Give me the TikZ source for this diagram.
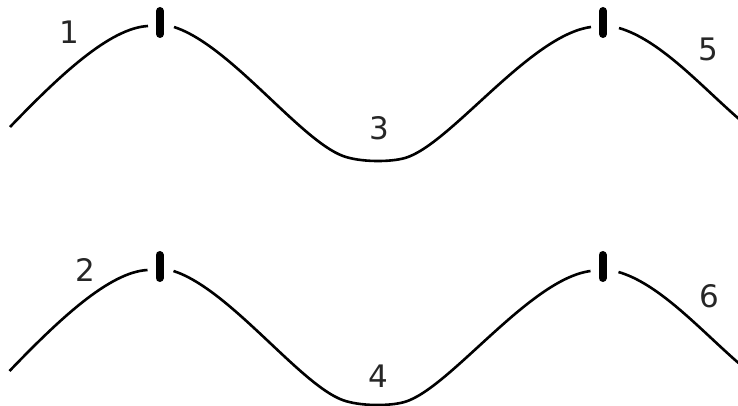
\documentclass[tikz,border=0pt]{standalone}
\usepackage{fontspec}
\setmainfont{DejaVu Sans}
\newcommand{\mywavepath}{%
  \draw[wave] (10,127) .. controls (60,75) and (110,28) .. (148,26);
  \draw[wave] (174,27) .. controls (230,45) and (300,140) .. (343,156)
              .. controls (360,162.3) and (390,162.3) .. (405,158)
              .. controls (450,145) and (530,35) .. (591,27);
  \draw[wave] (619,28) .. controls (660,40) and (700,85) .. (739,119);
  \draw[bar] (160,11) -- (160,34);
  \draw[bar] (603,11) -- (603,34);
}
\begin{document}
\begin{tikzpicture}[x=1pt, y=-1pt,
  wave/.style={line width=2.6pt, black},
  bar/.style={line width=8pt, line cap=round, black},
  num/.style={font=\fontsize{31}{31}\selectfont, text=black!85, inner sep=0pt}]
\useasboundingbox (0,0) rectangle (738,406);
\mywavepath
\begin{scope}[shift={(-0.5,244)}]
\mywavepath
\end{scope}
\node[num] (l1) at (69,32) {1};
\node[num] (l3) at (379,128) {3};
\node[num] (l5) at (708,49) {5};
\node[num] (l2) at (85,270) {2};
\node[num] (l4) at (378,376) {4};
\node[num] (l6) at (709,296) {6};
\end{tikzpicture}
\end{document}
